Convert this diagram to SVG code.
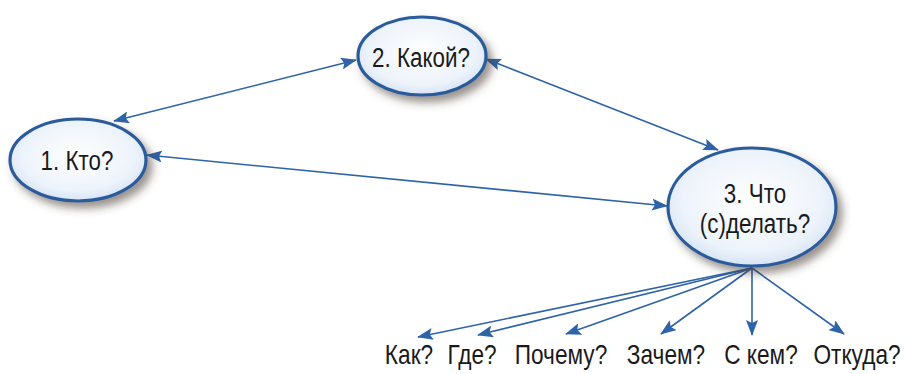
<svg xmlns="http://www.w3.org/2000/svg" width="905" height="374" viewBox="0 0 905 374">
<style>
.node{fill:url(#g);stroke:#2c5b9c;stroke-width:3.2;filter:url(#sh)}
.t{font-family:"Liberation Sans",Arial,sans-serif;font-size:28px;fill:#1a1a1a;text-anchor:middle}
.l{font-family:"Liberation Sans",Arial,sans-serif;font-size:27px;fill:#1a1a1a;text-anchor:middle}
.c{stroke:#2f63a8;stroke-width:1.6;fill:none}
</style>
<defs>
<radialGradient id="g" cx="50%" cy="45%" r="60%">
<stop offset="0" stop-color="#ffffff"/>
<stop offset="0.7" stop-color="#edf3fb"/>
<stop offset="1" stop-color="#cfdff2"/>
</radialGradient>
<filter id="sh" x="-20%" y="-20%" width="150%" height="160%">
<feDropShadow dx="5" dy="6" stdDeviation="4" flood-color="#4a3a30" flood-opacity="0.55"/>
</filter>
<marker id="a" viewBox="0 0 16 12" refX="15" refY="6" markerWidth="16" markerHeight="12" markerUnits="userSpaceOnUse" orient="auto-start-reverse">
<path d="M0,0 L16,6 L0,12 L3,6 z" fill="#2f63a8"/>
</marker>
</defs>
<g id="connectors">
<line class="c" x1="114" y1="121" x2="356" y2="60" marker-start="url(#a)" marker-end="url(#a)"/>
<line class="c" x1="486" y1="59" x2="718" y2="150" marker-start="url(#a)" marker-end="url(#a)"/>
<line class="c" x1="147" y1="155" x2="667" y2="206" marker-start="url(#a)" marker-end="url(#a)"/>
<line class="c" x1="752" y1="268" x2="418" y2="337" marker-end="url(#a)"/>
<line class="c" x1="752" y1="268" x2="478" y2="335" marker-end="url(#a)"/>
<line class="c" x1="752" y1="268" x2="566" y2="334" marker-end="url(#a)"/>
<line class="c" x1="752" y1="268" x2="661" y2="334" marker-end="url(#a)"/>
<line class="c" x1="752" y1="268" x2="752" y2="335" marker-end="url(#a)"/>
<line class="c" x1="752" y1="268" x2="844" y2="334" marker-end="url(#a)"/>
</g>
<g id="node1">
<ellipse class="node" cx="78" cy="160" rx="68" ry="41"/>
<text class="t" transform="translate(77,170) scale(0.8,1)">1. Кто?</text>
</g>
<g id="node2">
<ellipse class="node" cx="422" cy="56" rx="64" ry="39"/>
<text class="t" transform="translate(421,67) scale(0.8,1)">2. Какой?</text>
</g>
<g id="node3">
<ellipse class="node" cx="752" cy="207" rx="84" ry="59"/>
<text class="t" transform="translate(755,203) scale(0.8,1)">3. Что</text>
<text class="t" transform="translate(755,233) scale(0.8,1)">(с)делать?</text>
</g>
<g id="labels">
<text class="l" transform="translate(409,364) scale(0.84,1)">Как?</text>
<text class="l" transform="translate(472,364) scale(0.84,1)">Где?</text>
<text class="l" transform="translate(561,364) scale(0.84,1)">Почему?</text>
<text class="l" transform="translate(666,364) scale(0.84,1)">Зачем?</text>
<text class="l" transform="translate(761,364) scale(0.84,1)">С кем?</text>
<text class="l" transform="translate(857,364) scale(0.84,1)">Откуда?</text>
</g>
</svg>
